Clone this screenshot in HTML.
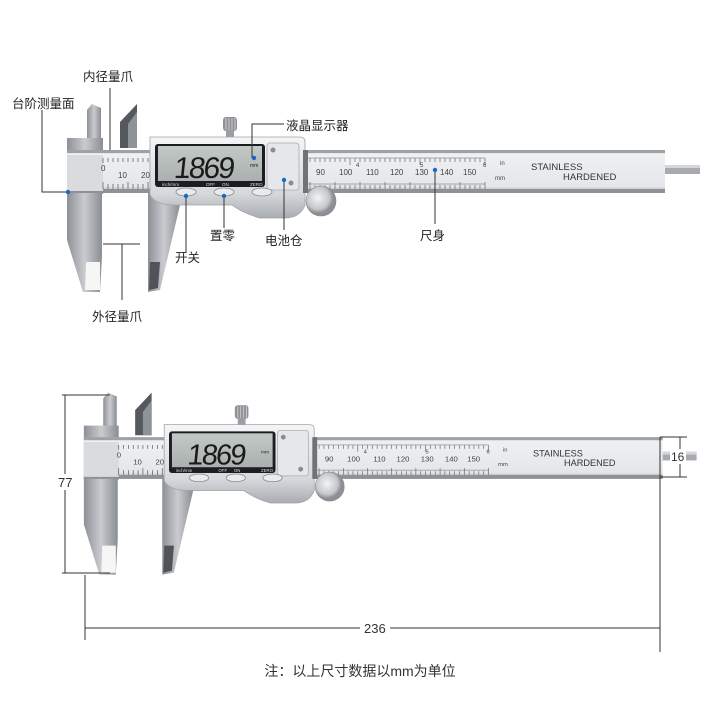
<!DOCTYPE html>
<html><head><meta charset="utf-8"><style>
html,body{margin:0;padding:0;background:#fff;width:720px;height:720px;overflow:hidden}
svg{display:block}
text{font-family:"Liberation Sans","Noto Sans CJK SC",sans-serif}
</style></head><body>
<svg width="720" height="720" viewBox="0 0 720 720" xmlns="http://www.w3.org/2000/svg">
<defs>
<linearGradient id="steel" x1="0" y1="0" x2="1" y2="0">
<stop offset="0" stop-color="#8d9096"/><stop offset="0.5" stop-color="#c9cbcf"/><stop offset="1" stop-color="#8a8d92"/></linearGradient>
<linearGradient id="beam" x1="0" y1="0" x2="0" y2="1">
<stop offset="0" stop-color="#b8bbc0"/><stop offset="0.1" stop-color="#eef0f2"/><stop offset="0.85" stop-color="#e4e6e9"/><stop offset="1" stop-color="#9a9da2"/></linearGradient>
<linearGradient id="house" x1="0" y1="0" x2="0" y2="1">
<stop offset="0" stop-color="#f4f5f7"/><stop offset="0.7" stop-color="#d6d8dc"/><stop offset="1" stop-color="#a9acb1"/></linearGradient>
<linearGradient id="lcd" x1="0" y1="0" x2="0" y2="1">
<stop offset="0" stop-color="#c3c9c6"/><stop offset="1" stop-color="#a9b0ad"/></linearGradient>
<radialGradient id="wheel" cx="0.4" cy="0.4"><stop offset="0" stop-color="#f4f4f4"/><stop offset="0.75" stop-color="#c4c6c9"/><stop offset="1" stop-color="#8c8f94"/></radialGradient>
<g id="cal">
<rect x="660" y="165" width="40" height="9" fill="#a7aaaf"/>
<rect x="660" y="165" width="40" height="3" fill="#d4d6d9"/>
<path d="M87 110 L92 104 L101 108 L101 140 L87 140 Z" fill="url(#steel)"/>
<path d="M120 148 L120 122 L137 104 L137 148 Z" fill="#55585d"/>
<path d="M128 148 L128 124 L137 112 L137 148 Z" fill="#8f9297"/>
<rect x="67" y="138" width="36" height="56" fill="url(#steel)"/>
<path d="M67 190 L102 190 L102 256 L100 292 L83 292 L67 240 Z" fill="url(#steel)"/>
<path d="M86 262 L100 262 L100 290 L85 290 Z" fill="#f6f6f6"/>
<rect x="67" y="150" width="598" height="43" fill="url(#beam)"/>
<rect x="67" y="150" width="598" height="3" fill="#9ea1a6"/>
<rect x="67" y="189" width="598" height="4" fill="#8e9196"/>
<rect x="67" y="155" width="36" height="36" fill="#d9dbde"/>
<g stroke="#555" stroke-width="0.7">
<path d="M103 158 v5 M108 158 v4 M113 158 v4 M118 158 v4 M123 158 v4 M128 158 v4 M133 158 v4 M138 158 v4 M143 158 v4 M148 158 v4"/>
<path d="M103 182 v7 M108 184 v5 M113 184 v5 M118 184 v5 M123 184 v5 M128 182 v7 M133 184 v5 M138 184 v5 M143 184 v5 M148 182 v7"/>
</g>
<path d="M308 158 H485 M308 184 H485" stroke="#666" stroke-width="0.5"/>
<path d="M310 158 v4 M315 158 v4 M320 158 v4 M325 158 v4 M330 158 v4 M335 158 v4 M340 158 v4 M345 158 v4 M350 158 v7 M355 158 v4 M360 158 v4 M365 158 v4 M370 158 v4 M375 158 v4 M380 158 v4 M385 158 v4 M390 158 v4 M395 158 v4 M400 158 v4 M405 158 v4 M410 158 v4 M415 158 v4 M420 158 v7 M425 158 v4 M430 158 v4 M435 158 v4 M440 158 v4 M445 158 v4 M450 158 v4 M455 158 v4 M460 158 v4 M465 158 v4 M470 158 v4 M475 158 v4 M480 158 v4 M485 158 v7" stroke="#555" stroke-width="0.6"/>
<path d="M310 182 v7 M315 185 v4 M320 185 v4 M325 185 v4 M330 185 v4 M335 182 v7 M340 185 v4 M345 185 v4 M350 185 v4 M355 185 v4 M360 182 v7 M365 185 v4 M370 185 v4 M375 185 v4 M380 185 v4 M385 182 v7 M390 185 v4 M395 185 v4 M400 185 v4 M405 185 v4 M410 182 v7 M415 185 v4 M420 185 v4 M425 185 v4 M430 185 v4 M435 182 v7 M440 185 v4 M445 185 v4 M450 185 v4 M455 185 v4 M460 182 v7 M465 185 v4 M470 185 v4 M475 185 v4 M480 185 v4 M485 182 v7" stroke="#555" stroke-width="0.6"/>
<g font-size="8" fill="#444">
<text x="101" y="171">0</text><text x="118" y="178">10</text><text x="141" y="178">20</text>
<text x="316" y="175">90</text><text x="339" y="175">100</text><text x="366" y="175">110</text><text x="390" y="175">120</text><text x="415" y="175">130</text><text x="440" y="175">140</text><text x="463" y="175">150</text>
<text x="356" y="167" font-size="6">4</text><text x="420" y="167" font-size="6">5</text><text x="483" y="167" font-size="6">6</text>
<text x="500" y="165" font-size="6">in</text><text x="495" y="180" font-size="6">mm</text>
</g>
<text x="531" y="170" font-size="9.5" fill="#333">STAINLESS</text>
<text x="563" y="180" font-size="9.5" fill="#333">HARDENED</text>
<path d="M148 193 L180 193 L180 205 L160 290 L148 292 Z" fill="url(#steel)"/>
<path d="M150 262 L160 262 L158 288 L149 290 Z" fill="#505358"/>
<rect x="223" y="117" width="14" height="14" rx="3" fill="#8f9196"/>
<path d="M226 118 v12 M229 118 v12 M232 118 v12 M235 118 v12" stroke="#c8cacd" stroke-width="1"/>
<rect x="226" y="130" width="8" height="7" fill="#9c9ea3"/>
<path d="M150 137 H300 Q305 137 305 142 V205 Q300 218 285 218 H260 Q245 214 232 205 H175 Q155 205 150 195 Z" fill="url(#house)" stroke="#a0a3a8" stroke-width="0.8"/>
<rect x="155" y="144" width="110" height="43" rx="3" fill="#1c1d20"/>
<rect x="158" y="146" width="104" height="35" fill="url(#lcd)"/>
<text x="192" y="178" font-size="30" fill="#1a1a1a" letter-spacing="-2" transform="translate(192 0) skewX(-6) translate(-192 0)">1869</text>
<text x="250" y="167" font-size="5" fill="#222">mm</text>
<g font-size="4.5" fill="#ddd"><text x="162" y="186">inch/mm</text><text x="206" y="186">OFF</text><text x="222" y="186">ON</text><text x="250" y="186">ZERO</text></g>
<rect x="267" y="143" width="32" height="47" rx="3" fill="#e6e7ea" stroke="#b6b9bd"/>
<circle cx="273" cy="150" r="2.5" fill="#8a8c8f"/><circle cx="291" cy="183" r="2.5" fill="#8a8c8f"/>
<ellipse cx="186" cy="192" rx="10" ry="4" fill="#e8eaed" stroke="#888" stroke-width="0.8"/>
<ellipse cx="224" cy="192" rx="10" ry="4" fill="#e8eaed" stroke="#888" stroke-width="0.8"/>
<ellipse cx="262" cy="192" rx="10" ry="4" fill="#e8eaed" stroke="#888" stroke-width="0.8"/>
<rect x="303" y="150" width="5" height="43" fill="#6f7277"/>
<circle cx="321" cy="201" r="15" fill="url(#wheel)" stroke="#888" stroke-width="0.6"/>
</g>
</defs>

<use href="#cal"/>
<use href="#cal" transform="translate(19 292) scale(0.968)"/>

<g stroke="#333" stroke-width="1" fill="none">
<path d="M42 110 V192 H68"/>
<path d="M110 88 V150"/>
<path d="M252 158 V124 H284"/>
<path d="M103 244 H140 M122 244 V300"/>
<path d="M186 196 V253"/>
<path d="M224 196 V228"/>
<path d="M284 180 V230"/>
<path d="M435 170 V224"/>
</g>
<g fill="#1769c9"><circle cx="68" cy="192" r="2.2"/><circle cx="254" cy="158" r="2.2"/><circle cx="186" cy="196" r="2.2"/><circle cx="224" cy="196" r="2.2"/><circle cx="284" cy="180" r="2.2"/><circle cx="435" cy="170" r="2.2"/></g>
<g font-size="12.5" fill="#222">
<text x="83" y="81">内径量爪</text>
<text x="12" y="108">台阶测量面</text>
<text x="286" y="130">液晶显示器</text>
<text x="420" y="240">尺身</text>
<text x="265" y="245">电池仓</text>
<text x="210" y="240">置零</text>
<text x="175" y="262">开关</text>
<text x="92" y="321">外径量爪</text>
</g>

<g stroke="#333" stroke-width="1" fill="none">
<path d="M65 395 V573 M62 395 H110 M62 573 H110"/>
<path d="M85 575 V640 M660 437 V652"/>
<path d="M85 628 H360 M390 628 H660"/>
<path d="M660 437 H687 M660 477 H687 M680 437 V477"/>
</g>
<rect x="56" y="474" width="20" height="16" fill="#fff"/>
<rect x="670" y="449" width="16" height="15" fill="#fff"/>
<g font-size="13" fill="#333">
<text x="58" y="487">77</text>
<text x="364" y="633">236</text>
<text x="671" y="461" font-size="12">16</text>
</g>
<text x="360" y="676" font-size="14" fill="#333" text-anchor="middle">注：以上尺寸数据以mm为单位</text>
</svg>
</body></html>
